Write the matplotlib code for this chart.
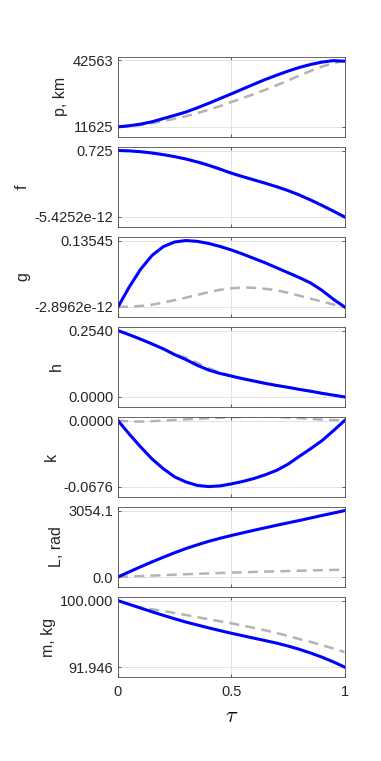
import numpy as np
import matplotlib
matplotlib.use('Agg')
import matplotlib.pyplot as plt

plt.rcParams['font.family'] = ['Liberation Sans', 'DejaVu Sans']
plt.rcParams['mathtext.fontset'] = 'cm'

# 归一化时间
tau = [0.00, 0.05, 0.10, 0.15, 0.20, 0.25, 0.30, 0.35, 0.40, 0.45, 0.50,
       0.55, 0.60, 0.65, 0.70, 0.75, 0.80, 0.85, 0.90, 0.95, 1.00]

# 优化轨迹（蓝色实线）
p_opt = [11625, 12150, 12900, 14000, 15500, 17000, 18550, 20500, 22600, 24800, 27000,
         29250, 31500, 33700, 35700, 37600, 39300, 40700, 41800, 42500, 42250]
f_opt = [0.725, 0.721, 0.712, 0.698, 0.680, 0.658, 0.632, 0.600, 0.564, 0.522, 0.478,
         0.440, 0.404, 0.368, 0.330, 0.288, 0.240, 0.185, 0.126, 0.064, 0.0]
g_opt = [0.0, 0.0410, 0.0770, 0.1050, 0.1230, 0.1325, 0.13545, 0.1338, 0.1295, 0.1235, 0.1163,
         0.1080, 0.0990, 0.0900, 0.0800, 0.0700, 0.0600, 0.0490, 0.0340, 0.0160, 0.0]
h_opt = [0.254, 0.238, 0.221, 0.203, 0.184, 0.162, 0.143, 0.121, 0.103, 0.090, 0.080,
         0.070, 0.061, 0.052, 0.044, 0.037, 0.029, 0.022, 0.014, 0.007, 0.0]
k_opt = [0.0, -0.0138, -0.0268, -0.0390, -0.0490, -0.0573, -0.0625, -0.0660, -0.0672, -0.0665, -0.0645,
         -0.0620, -0.0590, -0.0552, -0.0507, -0.0445, -0.0365, -0.0287, -0.0205, -0.0105, 0.0]
L_opt = [0, 240, 470, 695, 910, 1115, 1310, 1480, 1640, 1780, 1910,
         2030, 2150, 2265, 2380, 2490, 2600, 2715, 2830, 2940, 3054.1]
m_opt = [100.0, 99.55, 99.10, 98.65, 98.22, 97.80, 97.40, 97.05, 96.70, 96.37, 96.05,
         95.75, 95.45, 95.15, 94.85, 94.50, 94.10, 93.65, 93.15, 92.58, 91.946]

# 初始猜测（灰色虚线）
p_ini = [11625, 11950, 12500, 13300, 14300, 15400, 16600, 18000, 19600, 21300, 23200,
         25000, 26900, 28900, 31000, 33200, 35500, 37700, 39700, 41300, 42400]
f_ini = [0.725, 0.721, 0.712, 0.698, 0.681, 0.660, 0.636, 0.606, 0.570, 0.527, 0.482,
         0.442, 0.405, 0.370, 0.334, 0.291, 0.242, 0.186, 0.127, 0.064, 0.0]
g_ini = [0.0, 0.0005, 0.0020, 0.0045, 0.0090, 0.0137, 0.0190, 0.0245, 0.0300, 0.0350, 0.0380,
         0.0397, 0.0390, 0.0370, 0.0340, 0.0290, 0.0230, 0.0170, 0.0110, 0.0050, 0.0]
h_ini = [0.254, 0.238, 0.221, 0.203, 0.184, 0.164, 0.150, 0.130, 0.110, 0.094, 0.081,
         0.070, 0.061, 0.052, 0.044, 0.037, 0.029, 0.022, 0.014, 0.007, 0.0]
k_ini = [0.0, -0.0008, -0.0010, -0.0006, 0.0000, 0.0007, 0.0013, 0.0018, 0.0024, 0.0029, 0.0034,
         0.0038, 0.0041, 0.0041, 0.0038, 0.0032, 0.0024, 0.0017, 0.0011, 0.0006, 0.0002]
L_ini = [0, 22, 44, 65, 86, 106, 126, 146, 165, 184, 202,
         218, 234, 249, 263, 277, 290, 302, 314, 325, 336]
m_ini = [100.0, 99.55, 99.15, 98.95, 98.75, 98.50, 98.25, 98.00, 97.75, 97.50, 97.25,
         96.98, 96.70, 96.40, 96.08, 95.72, 95.35, 95.00, 94.60, 94.20, 93.76]

ylabels = ['p, km', 'f', 'g', 'h', 'k', 'L, rad', 'm, kg']
ytick_vals = [[11625, 42563], [-5.4252e-12, 0.725], [-2.8962e-12, 0.13545], [0.0, 0.2540],
              [-0.0676, 0.0], [0.0, 3054.1], [91.946, 100.0]]
ytick_text = [['11625', '42563'], ['-5.4252e-12', '0.725'], ['-2.8962e-12', '0.13545'],
              ['0.0000', '0.2540'], ['-0.0676', '0.0000'], ['0.0', '3054.1'], ['91.946', '100.000']]
xticks = [0, 0.5, 1]
xtick_text = ['0', '0.5', '1']

opt = [p_opt, f_opt, g_opt, h_opt, k_opt, L_opt, m_opt]
ini = [p_ini, f_ini, g_ini, h_ini, k_ini, L_ini, m_ini]

fig = plt.figure(figsize=(3.81, 7.61), dpi=100)
left, width = 0.3097, 0.5945
h_ax, step, bottom0 = 0.1051, 0.1183, 0.1104

for i in range(7):
    ax = fig.add_axes([left, bottom0 + (6 - i) * step, width, h_ax])
    ax.plot(tau, ini[i], color=(0.7, 0.7, 0.7), lw=1.8, dashes=(4, 2.5))
    ax.plot(tau, opt[i], color=(0, 0, 1), lw=2.2)
    lo, hi = ytick_vals[i]
    r = hi - lo
    ax.set_ylim(lo - 0.15 * r, hi + 0.055 * r)
    ax.set_xlim(0, 1)
    ax.set_yticks(ytick_vals[i])
    ax.set_yticklabels(ytick_text[i])
    ax.set_xticks(xticks)
    if i == 6:
        ax.set_xticklabels(xtick_text)
        ax.set_xlabel(r'$\tau$', fontsize=16, labelpad=5)
    else:
        ax.set_xticklabels([])
    ax.set_ylabel(ylabels[i], fontsize=11.5, color='#262626', labelpad=3)
    ax.grid(True, color='#dedede', lw=0.6)
    ax.set_axisbelow(True)
    ax.tick_params(direction='in', length=2.5, width=0.5, top=True, right=True,
                   labelsize=10.5, colors='#262626', pad=3.5)
    ax.tick_params(axis='x', pad=6)
    for s in ax.spines.values():
        s.set_color('#4d4d4d')
        s.set_linewidth(0.6)

fig.savefig('out.png', dpi=100)
